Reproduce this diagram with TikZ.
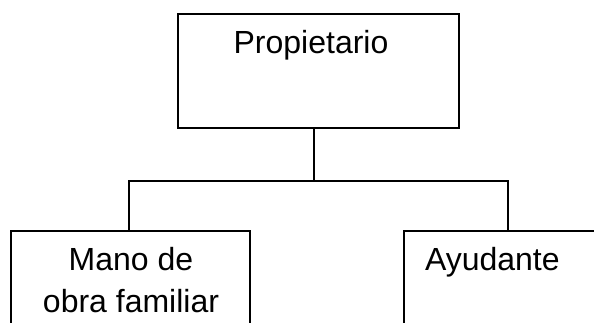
\documentclass[tikz,border=0pt]{standalone}
\usepackage{fontspec}
\setmainfont{Liberation Sans}
\usetikzlibrary{calc}
\begin{document}
\begin{tikzpicture}[x=1pt,y=1pt,
  box/.style={draw=black, line width=1.9pt, rectangle, inner sep=0pt, outer sep=0pt},
  lbl/.style={font=\fontsize{32}{42}\selectfont, inner sep=0pt, outer sep=0pt},
  conn/.style={draw=black, line width=1.9pt}]
\useasboundingbox (0,0) rectangle (594,322);
\clip (0,0) rectangle (594,322);
% boxes
\node[box, minimum width=281pt, minimum height=114pt] (prop) at (318.5,251) {};
\node[box, minimum width=239pt, minimum height=121pt] (mano) at (130.5,30.5) {};
\node[box, minimum width=236pt, minimum height=121pt] (ayu) at (522,30.5) {};
% labels
\node[lbl, anchor=base] (tprop) at (311,269) {Propietario};
\node[lbl, anchor=base, align=center] (tmano) at (131,10) {Mano de\\obra familiar};
\node[lbl, anchor=base west] (tayu) at (425,52) {Ayudante};
% connectors
\draw[conn] ($(prop.south)+(-4.5,0)$) -- ++(0,-53) coordinate (hub);
\draw[conn] ($(mano.north)+(-1.5,0)$) |- ($(ayu.north west)+(104,50)$) -- ($(ayu.north west)+(104,0)$);
\end{tikzpicture}
\end{document}
